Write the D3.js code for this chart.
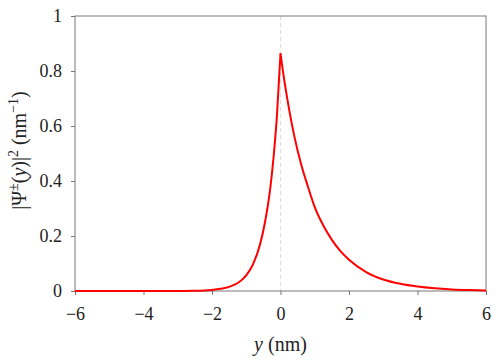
<!DOCTYPE html>
<html>
<head>
<meta charset="utf-8">
<script src="https://cdn.jsdelivr.net/npm/d3@7"></script>
<style>
  body { margin: 0; background: #fff; }
</style>
</head>
<body>
<svg id="chart" width="498" height="364"></svg>
<script>
"use strict";

// |Psi(y)|^2, split at the cusp (y = 0)
const leftY = [-6, -5, -4, -3, -2.5, -2, -1.75, -1.5, -1.25, -1, -0.8, -0.6, -0.45, -0.3, -0.2, -0.1, 0];
const leftP = [0, 0, 0, 0.0003, 0.001, 0.004, 0.008, 0.015, 0.029, 0.057, 0.098, 0.168, 0.252, 0.372, 0.49, 0.645, 0.865];
const rightY = [0, 0.1, 0.2, 0.4, 0.6, 0.8, 1, 1.25, 1.5, 1.75, 2, 2.5, 3, 3.5, 4, 4.5, 5, 5.5, 6];
const rightP = [0.865, 0.775, 0.698, 0.565, 0.462, 0.38, 0.305, 0.238, 0.186, 0.145, 0.114, 0.069, 0.042, 0.026, 0.016, 0.0097, 0.0058, 0.0035, 0.0021];

const xTicks = [-6, -4, -2, 0, 2, 4, 6];
const yTicks = [0, 0.2, 0.4, 0.6, 0.8, 1];

const FONT = "'Liberation Serif', 'Times New Roman', 'DejaVu Serif', serif";

const svg = d3.select('#chart');
const m = {left: 75, right: 12, top: 16, bottom: 73};
const W = 498 - m.left - m.right;
const H = 364 - m.top - m.bottom;

const x = d3.scaleLinear().domain([-6, 6]).range([0, W]);
const y = d3.scaleLinear().domain([0, 1]).range([H, 0]);
const fmt = d => (d < 0 ? '\u2212' + Math.abs(d) : String(d));

const g = svg.append('g').attr('transform', `translate(${m.left},${m.top})`);

// dashed guide at y = 0
g.append('line')
  .attr('x1', x(0)).attr('x2', x(0))
  .attr('y1', 0).attr('y2', H)
  .attr('stroke', '#dcdcdc').attr('stroke-width', 1).attr('stroke-dasharray', '4,3');

// axes
const xAxis = g.append('g').attr('transform', `translate(0,${H})`)
  .call(d3.axisBottom(x).tickValues(xTicks).tickFormat(fmt).tickSize(4).tickPadding(12));
const yAxis = g.append('g')
  .call(d3.axisLeft(y).tickValues(yTicks).tickFormat(d3.format('')).tickSize(4).tickPadding(9));
[xAxis, yAxis].forEach(a => {
  a.attr('font-family', FONT).attr('font-size', 18);
  a.select('.domain').remove();
  a.selectAll('.tick line').attr('stroke', '#777');
  a.selectAll('.tick text').attr('fill', '#222');
});

// frame
g.append('rect').attr('width', W).attr('height', H)
  .attr('fill', 'none').attr('stroke', '#777').attr('stroke-width', 1);

// curve
const line = d3.line().x(d => x(d[0])).y(d => y(d[1])).curve(d3.curveMonotoneX);
const leftPts = leftY.map((v, i) => [v, leftP[i]]);
const rightPts = rightY.map((v, i) => [v, rightP[i]]);
g.append('path')
  .attr('d', line(leftPts) + line(rightPts).replace(/^M/, 'L'))
  .attr('fill', 'none').attr('stroke', '#ff0000').attr('stroke-width', 2)
  .attr('stroke-linejoin', 'miter');

// labels
const xl = svg.append('text')
  .attr('x', m.left + x(0)).attr('y', 351)
  .attr('text-anchor', 'middle').attr('fill', '#222')
  .attr('font-family', FONT).attr('font-size', 20);
xl.append('tspan').attr('font-style', 'italic').text('y');
xl.append('tspan').text(' (nm)');

const yl = svg.append('text')
  .attr('transform', `translate(26,${m.top + H / 2 - 3}) rotate(-90)`)
  .attr('text-anchor', 'middle').attr('fill', '#222')
  .attr('font-family', FONT).attr('font-size', 20);
yl.append('tspan').text('|\u03A8');
yl.append('tspan').attr('dy', -8).attr('font-size', 14).text('\u00B1');
yl.append('tspan').attr('dy', 8).text('(');
yl.append('tspan').attr('font-style', 'italic').text('y');
yl.append('tspan').text(')|');
yl.append('tspan').attr('dy', -8).attr('font-size', 14).text('2');
yl.append('tspan').attr('dy', 8).text(' (nm');
yl.append('tspan').attr('dy', -8).attr('font-size', 14).text('\u22121');
yl.append('tspan').attr('dy', 8).text(')');
</script>
</body>
</html>
